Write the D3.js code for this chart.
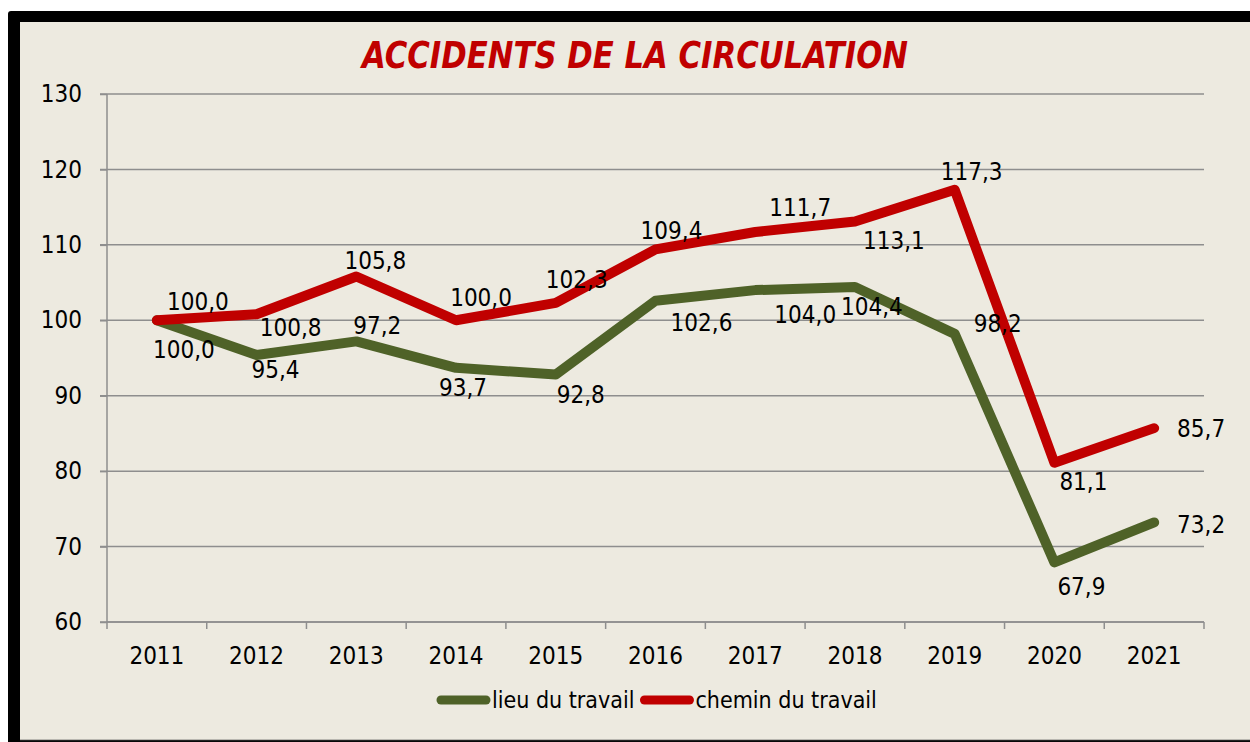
<!DOCTYPE html>
<html>
<head>
<meta charset="utf-8">
<script src="https://cdn.jsdelivr.net/npm/d3@7"></script>
<style>
  body { margin: 0; background: #ffffff; }
  svg text { font-family: "DejaVu Sans Condensed", "DejaVu Sans", sans-serif; fill: #000; }
  .grid line { stroke: #8e8e8e; stroke-width: 1.5; }
  .axis path, .axis line { stroke: #8e8e8e; stroke-width: 1.5; }
</style>
</head>
<body>
<div id="chart"></div>
<script>
// data
var years = ["2011", "2012", "2013", "2014", "2015", "2016", "2017", "2018", "2019", "2020", "2021"];
var lieuDuTravail = [100.0, 95.4, 97.2, 93.7, 92.8, 102.6, 104.0, 104.4, 98.2, 67.9, 73.2];
var cheminDuTravail = [100.0, 100.8, 105.8, 100.0, 102.3, 109.4, 111.7, 113.1, 117.3, 81.1, 85.7];
var yTicks = [60, 70, 80, 90, 100, 110, 120, 130];

// where each value label sits relative to its point (like Excel placed them)
var lieuLabelOffsets = [[27, 29], [19, 14], [21, -16], [7, 20], [25, 20], [46, 22], [50, 24], [17, 19], [43, -11], [27, 24], [47, 2]];
var cheminLabelOffsets = [[41, -19], [34, 13], [19, -16], [25, -23], [21, -24], [16, -19], [45, -25], [39, 19], [17, -18], [29, 19], [47, 0]];

var svgWidth = 1250;
var svgHeight = 742;

var margin = {top: 94, right: 46, bottom: 120, left: 107};
var width = 1204 - margin.left;
var height = 622 - margin.top;

var svg = d3.select("#chart")
  .append("svg")
  .attr("width", svgWidth)
  .attr("height", svgHeight);

// frame: beige panel with a black border cut off on the right
svg.append("rect")
  .attr("x", 8).attr("y", 11)
  .attr("width", svgWidth).attr("height", svgHeight)
  .attr("rx", 3)
  .attr("fill", "#000");
svg.append("rect")
  .attr("x", 20).attr("y", 22)
  .attr("width", svgWidth).attr("height", 718)
  .attr("fill", "#edeae0");
svg.append("line")
  .attr("x1", 20).attr("x2", svgWidth)
  .attr("y1", 740.5).attr("y2", 740.5)
  .attr("stroke", "#222").attr("stroke-width", 1.5);

svg.append("text")
  .attr("x", 635)
  .attr("y", 68)
  .attr("text-anchor", "middle")
  .attr("textLength", 546)
  .attr("lengthAdjust", "spacingAndGlyphs")
  .style("font-size", "37px")
  .style("font-weight", "bold")
  .style("font-style", "italic")
  .style("fill", "#c00000")
  .text("ACCIDENTS DE LA CIRCULATION");

var chartGroup = svg.append("g")
  .attr("transform", `translate(${margin.left}, ${margin.top})`);

var xBand = d3.scaleBand()
  .domain(years)
  .range([0, width]);

var yLinearScale = d3.scaleLinear()
  .domain([60, 130])
  .range([height, 0]);

// horizontal gridlines, poking out left like tick marks
chartGroup.append("g")
  .attr("class", "grid")
  .selectAll("line")
  .data(yTicks)
  .enter()
  .append("line")
  .attr("x1", -7)
  .attr("x2", width)
  .attr("y1", d => yLinearScale(d))
  .attr("y2", d => yLinearScale(d));

var leftAxis = d3.axisLeft(yLinearScale)
  .tickValues(yTicks)
  .tickSize(7)
  .tickPadding(18);

var yAxis = chartGroup.append("g")
  .attr("class", "axis")
  .call(leftAxis);
yAxis.select(".domain").attr("d", `M0,0V${height}`);
yAxis.selectAll("text").style("font-size", "24px");

// x axis ticks sit on the band edges
var xAxis = chartGroup.append("g")
  .attr("class", "axis")
  .attr("transform", `translate(0, ${height})`);
xAxis.append("line")
  .attr("x1", 0).attr("x2", width)
  .attr("y1", 0).attr("y2", 0);
xAxis.selectAll(".edge")
  .data(d3.range(years.length + 1))
  .enter()
  .append("line")
  .attr("class", "edge")
  .attr("x1", i => i * xBand.step())
  .attr("x2", i => i * xBand.step())
  .attr("y1", 0)
  .attr("y2", 7);
xAxis.selectAll(".yearLabel")
  .data(years)
  .enter()
  .append("text")
  .attr("class", "yearLabel")
  .attr("x", d => xBand(d) + xBand.bandwidth() / 2)
  .attr("y", 42)
  .attr("text-anchor", "middle")
  .style("font-size", "24px")
  .text(d => d);

var series = [
  {name: "lieu du travail", values: lieuDuTravail, color: "#4f6228", offsets: lieuLabelOffsets},
  {name: "chemin du travail", values: cheminDuTravail, color: "#c00000", offsets: cheminLabelOffsets}
];

var line = d3.line()
  .x((d, i) => xBand(years[i]) + xBand.bandwidth() / 2)
  .y(d => yLinearScale(d));

series.forEach(function(s) {
  chartGroup.append("path")
    .datum(s.values)
    .attr("d", line)
    .attr("fill", "none")
    .attr("stroke", s.color)
    .attr("stroke-width", 10)
    .attr("stroke-linejoin", "round")
    .attr("stroke-linecap", "round");
});

var fmt = d => d.toFixed(1).replace(".", ",");

series.forEach(function(s) {
  chartGroup.selectAll(null)
    .data(s.values)
    .enter()
    .append("text")
    .attr("x", (d, i) => xBand(years[i]) + xBand.bandwidth() / 2 + s.offsets[i][0])
    .attr("y", (d, i) => yLinearScale(d) + s.offsets[i][1])
    .attr("dy", "0.36em")
    .attr("text-anchor", "middle")
    .style("font-size", "24px")
    .text(fmt);
});

// legend
var legend = svg.append("g");
var lx = 441;
series.forEach(function(s) {
  legend.append("line")
    .attr("x1", lx).attr("x2", lx + 45)
    .attr("y1", 700).attr("y2", 700)
    .attr("stroke", s.color)
    .attr("stroke-width", 9)
    .attr("stroke-linecap", "round");
  var t = legend.append("text")
    .attr("x", lx + 51)
    .attr("y", 708)
    .style("font-size", "23px")
    .text(s.name);
  lx += 51 + t.node().getComputedTextLength() + 10;
});
</script>
</body>
</html>
